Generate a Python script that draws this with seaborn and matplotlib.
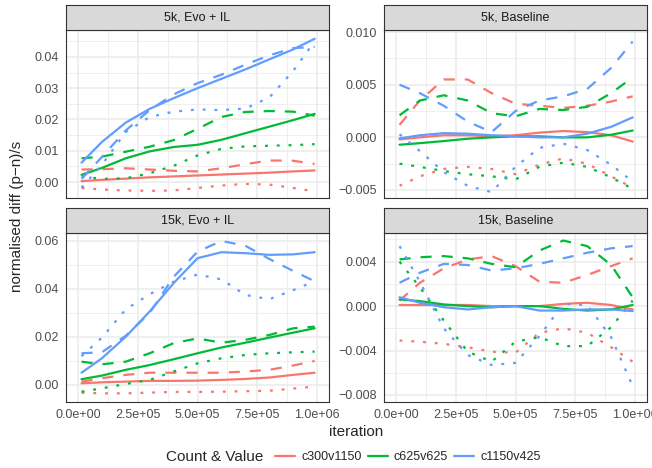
import pandas as pd
import matplotlib
matplotlib.use('Agg')
import matplotlib.pyplot as plt
from matplotlib.lines import Line2D
from matplotlib.ticker import MultipleLocator
import seaborn as sns

sns.set_style('white')
plt.rcParams['font.family'] = ['Liberation Sans', 'DejaVu Sans']

# x positions shared by every smoothed curve
iteration = [15000, 100000, 200000, 300000, 400000, 500000, 600000, 700000, 800000, 900000, 990000]

series_names = ['c300v1150', 'c625v625', 'c1150v425']
series_colors = ['#F8766D', '#00BA38', '#619CFF']
kinds = ['solid', 'dashed', 'dotted']

# 5k, Evo + IL
evo5_red_solid = [0.0003, 0.0007, 0.0011, 0.0015, 0.0018, 0.0021, 0.0024, 0.0027, 0.0030, 0.0034, 0.0037]
evo5_red_dashed = [0.0040, 0.0041, 0.0044, 0.0040, 0.0036, 0.0034, 0.0044, 0.0057, 0.0069, 0.0068, 0.0058]
evo5_red_dotted = [-0.0019, -0.0024, -0.0027, -0.0028, -0.0027, -0.0019, -0.0011, -0.0006, -0.0008, -0.0019, -0.0030]
evo5_green_solid = [0.0023, 0.0045, 0.0076, 0.0098, 0.0112, 0.0119, 0.0135, 0.0156, 0.0177, 0.0198, 0.0218]
evo5_green_dashed = [0.0076, 0.0081, 0.0097, 0.0113, 0.0134, 0.0170, 0.0208, 0.0224, 0.0227, 0.0225, 0.0212]
evo5_green_dotted = [0.0018, 0.0010, 0.0012, 0.0028, 0.0052, 0.0085, 0.0106, 0.0114, 0.0116, 0.0118, 0.0121]
evo5_blue_solid = [0.0062, 0.0128, 0.0190, 0.0234, 0.0268, 0.0300, 0.0330, 0.0360, 0.0392, 0.0424, 0.0458]
evo5_blue_dashed = [0.0010, 0.0080, 0.0165, 0.0230, 0.0280, 0.0316, 0.0343, 0.0375, 0.0405, 0.0428, 0.0432]
evo5_blue_dotted = [-0.0018, 0.0055, 0.0160, 0.0208, 0.0225, 0.0232, 0.0230, 0.0235, 0.0270, 0.0355, 0.0450]

# 5k, Baseline
base5_red_solid = [-0.0002, 0.0000, 0.0002, 0.0002, 0.0001, 0.0002, 0.00045, 0.0006, 0.0005, 0.0002, -0.0004]
base5_red_dashed = [0.0012, 0.0035, 0.0055, 0.0055, 0.0042, 0.0032, 0.0030, 0.0028, 0.0030, 0.0034, 0.0039]
base5_red_dotted = [-0.0046, -0.0037, -0.0030, -0.0028, -0.0030, -0.0035, -0.0026, -0.0020, -0.0025, -0.0037, -0.0048]
base5_green_solid = [-0.0007, -0.00055, -0.00035, -0.00013, 0.0000, 0.0001, 0.0001, 0.0000, 0.0000, 0.00025, 0.00065]
base5_green_dashed = [0.0021, 0.0035, 0.0040, 0.0035, 0.0023, 0.0020, 0.0027, 0.0026, 0.0029, 0.0042, 0.0057]
base5_green_dotted = [-0.0025, -0.0028, -0.0032, -0.0035, -0.0037, -0.0040, -0.0028, -0.0024, -0.0028, -0.0038, -0.0049]
base5_blue_solid = [-0.0001, 0.0002, 0.0004, 0.00035, 0.0002, 0.0001, 0.0000, 0.0000, 0.00035, 0.0010, 0.0019]
base5_blue_dashed = [0.0050, 0.0042, 0.0030, 0.0015, 0.0005, 0.0025, 0.0035, 0.0039, 0.0046, 0.0066, 0.0091]
base5_blue_dotted = [0.0003, -0.0013, -0.0033, -0.0046, -0.0052, -0.0028, -0.0010, -0.0006, -0.0012, -0.0026, -0.0042]

# 15k, Evo + IL
evo15_red_solid = [0.0007, 0.0011, 0.0014, 0.0017, 0.0017, 0.0018, 0.0021, 0.0025, 0.0031, 0.0042, 0.0051]
evo15_red_dashed = [0.0014, 0.0028, 0.0042, 0.0051, 0.0051, 0.0051, 0.0051, 0.0056, 0.0063, 0.0081, 0.0100]
evo15_red_dotted = [-0.0032, -0.0035, -0.0035, -0.0032, -0.0029, -0.0029, -0.0028, -0.0026, -0.0024, -0.0015, -0.0007]
evo15_green_solid = [0.0024, 0.0039, 0.0063, 0.0083, 0.0107, 0.0132, 0.0156, 0.0176, 0.0197, 0.0218, 0.0236]
evo15_green_dashed = [0.0097, 0.0086, 0.0097, 0.0132, 0.0174, 0.0194, 0.0176, 0.0188, 0.0208, 0.0236, 0.0243]
evo15_green_dotted = [-0.0028, -0.0014, 0.0004, 0.0021, 0.0056, 0.0090, 0.0111, 0.0125, 0.0132, 0.0136, 0.0139]
evo15_blue_solid = [0.0051, 0.0111, 0.0201, 0.0306, 0.0424, 0.0528, 0.0553, 0.0549, 0.0542, 0.0544, 0.0553]
evo15_blue_dashed = [0.0132, 0.0136, 0.0205, 0.0300, 0.0450, 0.0555, 0.0600, 0.0580, 0.0525, 0.0475, 0.0432]
evo15_blue_dotted = [0.0120, 0.0197, 0.0315, 0.0378, 0.0430, 0.0460, 0.0440, 0.0375, 0.0357, 0.0395, 0.0432]

# 15k, Baseline
base15_red_solid = [0.0001, 0.0001, 0.0001, 0.0001, 0.0000, 0.0000, 0.0000, 0.0002, 0.0003, 0.0001, -0.0003]
base15_red_dashed = [0.0005, 0.0021, 0.0034, 0.0042, 0.0045, 0.0036, 0.0022, 0.0021, 0.0028, 0.0036, 0.0043]
base15_red_dotted = [-0.0031, -0.0032, -0.0034, -0.0037, -0.0041, -0.0042, -0.0024, -0.0020, -0.0024, -0.0037, -0.0050]
base15_green_solid = [0.0006, 0.00045, 0.00015, 0.0000, -0.0001, 0.0000, 0.0000, -0.00025, -0.0004, -0.0003, 0.0001]
base15_green_dashed = [0.0042, 0.0044, 0.0045, 0.0043, 0.0038, 0.0035, 0.0050, 0.0059, 0.0054, 0.0037, 0.0008]
base15_green_dotted = [0.0040, 0.0017, -0.0013, -0.0041, -0.0050, -0.0032, -0.0028, -0.0036, -0.0036, -0.0019, 0.0005]
base15_blue_solid = [0.0008, 0.0003, -0.0001, -0.0003, -0.0001, 0.0000, -0.0004, -0.0004, -0.0003, -0.0003, -0.00045]
base15_blue_dashed = [0.0021, 0.0030, 0.0038, 0.0037, 0.0032, 0.0034, 0.0038, 0.0043, 0.0048, 0.0052, 0.0054]
base15_blue_dotted = [0.0054, 0.0022, -0.0020, -0.0044, -0.0053, -0.0051, -0.0027, 0.0002, 0.0001, -0.0028, -0.0072]

panels = ['5k, Evo + IL', '5k, Baseline', '15k, Evo + IL', '15k, Baseline']
panel_series = {
    '5k, Evo + IL': [evo5_red_solid, evo5_red_dashed, evo5_red_dotted,
                     evo5_green_solid, evo5_green_dashed, evo5_green_dotted,
                     evo5_blue_solid, evo5_blue_dashed, evo5_blue_dotted],
    '5k, Baseline': [base5_red_solid, base5_red_dashed, base5_red_dotted,
                     base5_green_solid, base5_green_dashed, base5_green_dotted,
                     base5_blue_solid, base5_blue_dashed, base5_blue_dotted],
    '15k, Evo + IL': [evo15_red_solid, evo15_red_dashed, evo15_red_dotted,
                      evo15_green_solid, evo15_green_dashed, evo15_green_dotted,
                      evo15_blue_solid, evo15_blue_dashed, evo15_blue_dotted],
    '15k, Baseline': [base15_red_solid, base15_red_dashed, base15_red_dotted,
                      base15_green_solid, base15_green_dashed, base15_green_dotted,
                      base15_blue_solid, base15_blue_dashed, base15_blue_dotted],
}

x_ticks = [0, 250000, 500000, 750000, 1000000]
x_tick_labels = ['0.0e+00', '2.5e+05', '5.0e+05', '7.5e+05', '1.0e+06']
y_ticks = {
    '5k, Evo + IL': [0.00, 0.01, 0.02, 0.03, 0.04],
    '5k, Baseline': [-0.005, 0.000, 0.005, 0.010],
    '15k, Evo + IL': [0.00, 0.02, 0.04, 0.06],
    '15k, Baseline': [-0.008, -0.004, 0.000, 0.004],
}
y_tick_labels = {
    '5k, Evo + IL': ['0.00', '0.01', '0.02', '0.03', '0.04'],
    '5k, Baseline': ['-0.005', '0.000', '0.005', '0.010'],
    '15k, Evo + IL': ['0.00', '0.02', '0.04', '0.06'],
    '15k, Baseline': ['-0.008', '-0.004', '0.000', '0.004'],
}
y_limits = {
    '5k, Evo + IL': (-0.0051, 0.0486),
    '5k, Baseline': (-0.00576, 0.0102),
    '15k, Evo + IL': (-0.0071, 0.0633),
    '15k, Baseline': (-0.00863, 0.00658),
}

rows = []
for p in panels:
    i = 0
    for s in series_names:
        for k in kinds:
            for x, v in zip(iteration, panel_series[p][i]):
                rows.append({'panel': p, 'series': s, 'kind': k, 'iteration': x, 'value': v})
            i += 1
df = pd.DataFrame(rows)

W, H = 652, 468
def rect(x0, y0, x1, y1):
    return [x0 / W, 1 - y1 / H, (x1 - x0) / W, (y1 - y0) / H]

layout = {
    '5k, Evo + IL': (66, 30, 329, 198),
    '5k, Baseline': (384, 30, 647, 198),
    '15k, Evo + IL': (66, 233, 329, 402),
    '15k, Baseline': (384, 233, 647, 402),
}

palette = dict(zip(series_names, series_colors))
dashes = {'solid': '', 'dashed': (5, 4.5), 'dotted': (1.3, 4.0)}

fig = plt.figure(figsize=(6.52, 4.68), dpi=100)
for p in panels:
    x0, y0, x1, y1 = layout[p]
    ax = fig.add_axes(rect(x0, y0, x1, y1))
    sns.lineplot(data=df[df['panel'] == p], x='iteration', y='value',
                 hue='series', style='kind', hue_order=series_names, style_order=kinds,
                 palette=palette, dashes=dashes, linewidth=1.6, estimator=None,
                 legend=False, ax=ax)
    ax.set_xlim(-50000, 1050000)
    ax.set_ylim(*y_limits[p])
    ax.set_xticks(x_ticks)
    ax.xaxis.set_minor_locator(MultipleLocator(125000))
    yt = y_ticks[p]
    ax.set_yticks(yt)
    ax.set_yticklabels([t.replace('-', '\u2212') for t in y_tick_labels[p]])
    ax.yaxis.set_minor_locator(MultipleLocator((yt[1] - yt[0]) / 2))
    ax.grid(which='major', color='#EBEBEB', lw=1.1)
    ax.grid(which='minor', color='#EBEBEB', lw=0.55)
    ax.set_axisbelow(True)
    for sp in ax.spines.values():
        sp.set_color('#333333')
        sp.set_linewidth(0.8)
    ax.tick_params(which='major', direction='out', length=2.75, width=0.8, color='#333333',
                   labelcolor='#4D4D4D', labelsize=9, pad=2.2)
    ax.tick_params(which='minor', length=0)
    if y0 < 200:
        ax.tick_params(axis='x', which='both', bottom=False, labelbottom=False)
    else:
        ax.set_xticklabels(x_tick_labels)
    ax.set_xlabel('')
    ax.set_ylabel('')

    sax = fig.add_axes(rect(x0, y0 - 25, x1, y0))
    sax.set_facecolor('#D9D9D9')
    sax.set_xticks([])
    sax.set_yticks([])
    for sp in sax.spines.values():
        sp.set_color('#333333')
        sp.set_linewidth(0.8)
    sax.text(0.5, 0.5, p, ha='center', va='center', fontsize=9, color='#1A1A1A',
             transform=sax.transAxes)

fig.text(17 / W, 1 - 216 / H, 'normalised diff (p\u2212n)/s', rotation=90,
         ha='center', va='center', fontsize=11)
fig.text(356 / W, 1 - 432 / H, 'iteration', ha='center', va='center', fontsize=11)

fig.text(166 / W, 1 - 457 / H, 'Count & Value', ha='left', va='center', fontsize=11)
handles = [Line2D([], [], color=c, lw=1.6) for c in series_colors]
fig.legend(handles, series_names, loc='center left', bbox_to_anchor=(275 / W, 1 - 457 / H),
           ncol=3, frameon=False, fontsize=9, handlelength=1.6, handletextpad=0.48,
           columnspacing=0.5, borderpad=0, borderaxespad=0)

fig.savefig('out.png', dpi=100)
